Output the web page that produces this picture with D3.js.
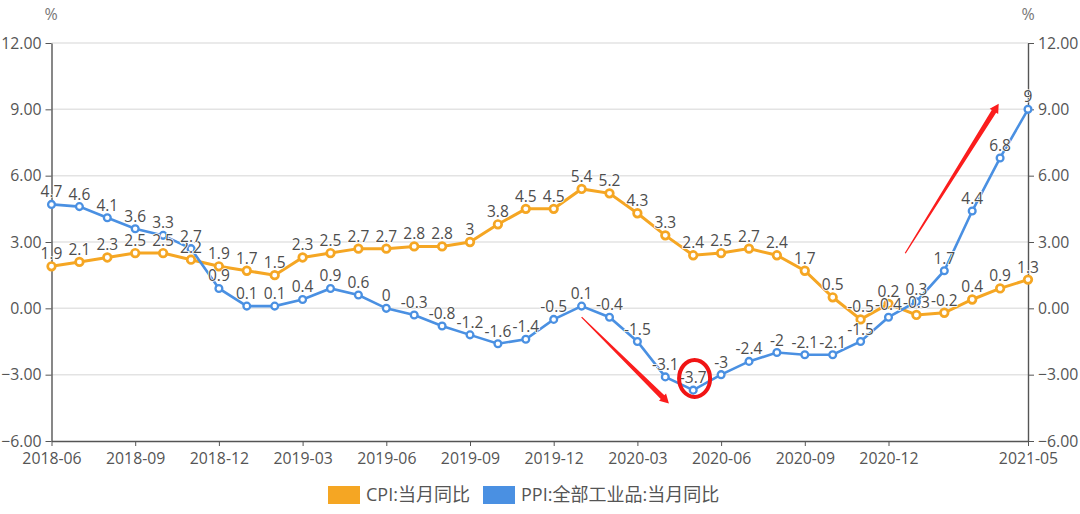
<!DOCTYPE html>
<html>
<head>
<meta charset="utf-8">
<script src="https://cdn.jsdelivr.net/npm/d3@7"></script>
<style>
html,body{margin:0;padding:0;background:#fff;}
svg{display:block;}
text{font-family:"Open Sans","Noto Sans CJK SC",sans-serif;}
</style>
</head>
<body>
<div class="svg-container"></div>
<script>
const months = ['2018-06','2018-07','2018-08','2018-09','2018-10','2018-11','2018-12','2019-01','2019-02','2019-03','2019-04','2019-05',
  '2019-06','2019-07','2019-08','2019-09','2019-10','2019-11','2019-12','2020-01','2020-02','2020-03','2020-04','2020-05',
  '2020-06','2020-07','2020-08','2020-09','2020-10','2020-11','2020-12','2021-01','2021-02','2021-03','2021-04','2021-05'];
const cpi = [1.9,2.1,2.3,2.5,2.5,2.2,1.9,1.7,1.5,2.3,2.5,2.7,2.7,2.8,2.8,3,3.8,4.5,4.5,5.4,5.2,4.3,3.3,2.4,2.5,2.7,2.4,1.7,0.5,-0.5,0.2,-0.3,-0.2,0.4,0.9,1.3];
const ppi = [4.7,4.6,4.1,3.6,3.3,2.7,0.9,0.1,0.1,0.4,0.9,0.6,0,-0.3,-0.8,-1.2,-1.6,-1.4,-0.5,0.1,-0.4,-1.5,-3.1,-3.7,-3,-2.4,-2,-2.1,-2.1,-1.5,-0.4,0.3,1.7,4.4,6.8,9];
const xLabels = ['2018-06','2018-09','2018-12','2019-03','2019-06','2019-09','2019-12','2020-03','2020-06','2020-09','2020-12','2021-05'];
const yTicks = [-6,-3,0,3,6,9,12];
const cpiName = 'CPI:当月同比';
const ppiName = 'PPI:全部工业品:当月同比';
// hand drawn marks on the picture, in [month, value]
const arrowDown = [[19,-0.4],[22.13,-4.3]];
const arrowUp = [[30.6,2.49],[33.95,9.25]];
const circleAt = [23.05,-3.17];

const orange = '#f5a623', blue = '#4a90e2', axisCol = '#555', textCol = '#555';

const svg = d3.select('.svg-container').append('svg').attr('width',1080).attr('height',514);

const x = d3.scalePoint().domain(months).range([51.5,1028]);
const y = d3.scaleLinear().domain([-6,12]).range([441,43]);
const xIdx = d3.scaleLinear().domain([0,months.length-1]).range([51.5,1028]);

// grid
svg.append('g').selectAll('line').data(yTicks.filter(d=>d!=-6)).enter().append('line')
  .attr('x1',51.5).attr('x2',1028)
  .attr('y1',d=>y(d)).attr('y2',d=>y(d))
  .attr('stroke','#e3e3e3').attr('stroke-width',1.5);

// axes
const left = svg.append('g').attr('transform','translate(51.5,0)')
  .call(d3.axisLeft(y).tickValues(yTicks).tickSize(6).tickSizeOuter(0).tickPadding(4).tickFormat(d3.format('.2f')));
const right = svg.append('g').attr('transform','translate(1028,0)')
  .call(d3.axisRight(y).tickValues(yTicks).tickSize(6).tickSizeOuter(0).tickPadding(4).tickFormat(d3.format('.2f')));
const bottom = svg.append('g').attr('transform','translate(0,441)')
  .call(d3.axisBottom(x).tickValues(xLabels).tickSize(5).tickSizeOuter(0).tickPadding(7));
[left,right,bottom].forEach(a=>{
  a.select('.domain').attr('stroke',axisCol).attr('stroke-width',1.4);
  a.selectAll('line').attr('stroke',axisCol);
  a.selectAll('text').attr('fill',textCol).style('font-size','15.8px').style('font-family','"Open Sans"');
});

svg.append('text').attr('x',51).attr('y',20).attr('text-anchor','middle').attr('fill','#777').style('font-size','16px').text('%');
svg.append('text').attr('x',1028).attr('y',20).attr('text-anchor','middle').attr('fill','#777').style('font-size','16px').text('%');

// lines
const line = d3.line().x((d,i)=>x(months[i])).y(d=>y(d));
function drawSeries(vals,col,w,r){
  const g = svg.append('g');
  g.append('path').datum(vals).attr('d',line).attr('fill','none').attr('stroke',col).attr('stroke-width',w);
  g.selectAll('circle').data(vals).enter().append('circle')
    .attr('cx',(d,i)=>x(months[i])).attr('cy',d=>y(d)).attr('r',r)
    .attr('fill','#fff').attr('stroke',col).attr('stroke-width',w-0.3);
}
drawSeries(cpi,orange,3,3.8);
drawSeries(ppi,blue,2.6,3.4);

// value labels
function drawLabels(vals){
  svg.append('g').selectAll('text').data(vals).enter().append('text')
    .attr('x',(d,i)=>x(months[i])).attr('y',d=>y(d)-7)
    .attr('text-anchor','middle').attr('fill','#4d4d4d')
    .attr('stroke','#fff').attr('stroke-width',1.5).attr('paint-order','stroke')
    .style('font-size','15.5px').text(d=>d);
}
drawLabels(cpi);
drawLabels(ppi);

// red arrows and circle
function drawArrow(p){
  const x0=xIdx(p[0][0]), y0=y(p[0][1]), x1=xIdx(p[1][0]), y1=y(p[1][1]);
  const len=Math.hypot(x1-x0,y1-y0), ux=(x1-x0)/len, uy=(y1-y0)/len, nx=-uy, ny=ux;
  const bx=x1-ux*9, by=y1-uy*9;
  const pts=[[x0+nx*0.6,y0+ny*0.6],[bx+nx*2.6,by+ny*2.6],[bx+nx*5,by+ny*5],[x1,y1],[bx-nx*5,by-ny*5],[bx-nx*2.6,by-ny*2.6],[x0-nx*0.6,y0-ny*0.6]];
  svg.append('polygon').attr('points',pts.map(d=>d.join(',')).join(' ')).attr('fill','#fb1d1d');
}
drawArrow(arrowDown);
drawArrow(arrowUp);
svg.append('ellipse').attr('cx',xIdx(circleAt[0])).attr('cy',y(circleAt[1]))
  .attr('rx',15.5).attr('ry',18.5).attr('fill','none').attr('stroke','#f01414').attr('stroke-width',4);

// legend
const legend = [[cpiName,orange,328],[ppiName,blue,483]];
legend.forEach(d=>{
  svg.append('rect').attr('x',d[2]).attr('y',486).attr('width',32).attr('height',18).attr('fill',d[1]);
  svg.append('text').attr('x',d[2]+38).attr('y',501).attr('fill','#555').style('font-size','18px').text(d[0]);
});
</script>
</body>
</html>
